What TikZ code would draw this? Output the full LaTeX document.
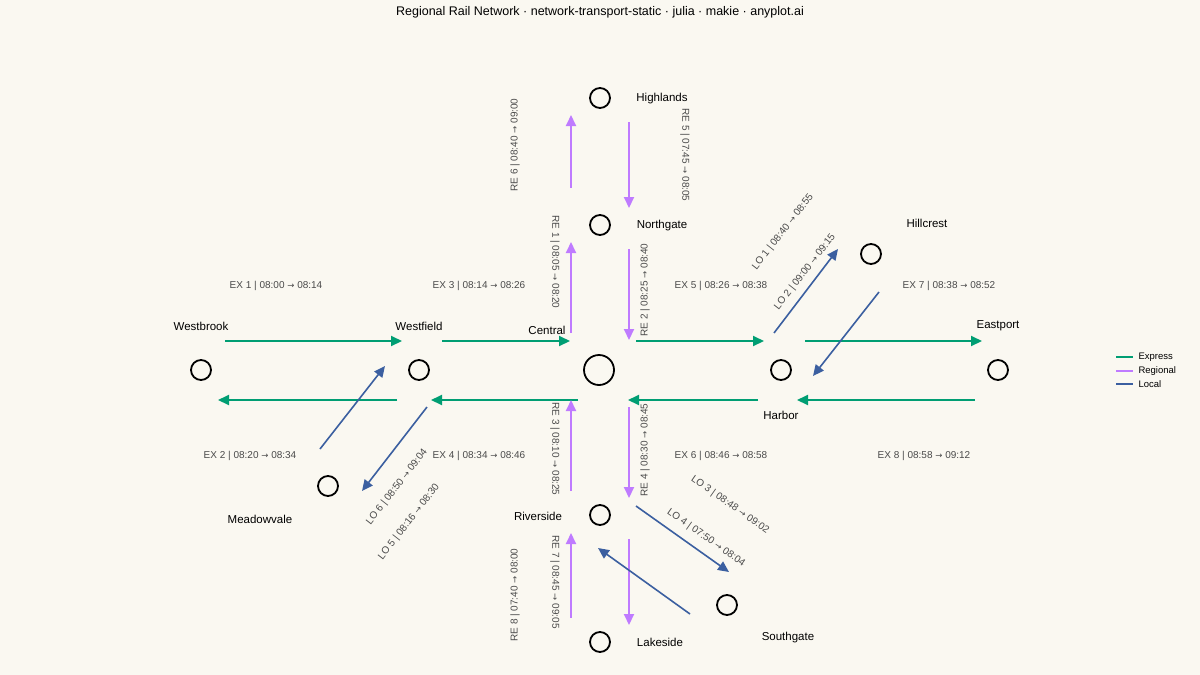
\documentclass[tikz,border=0pt]{standalone}
\usepackage{fontspec}
\setmainfont{Liberation Sans}
\newfontfamily\arrfont{DejaVu Sans}[Scale=0.85]
\newcommand\myarr{{\arrfont →}}
\usetikzlibrary{arrows.meta}
\definecolor{bg}{HTML}{FAF8F1}
\definecolor{ex}{HTML}{009E73}
\definecolor{re}{HTML}{BF7BFF}
\definecolor{lo}{HTML}{3B5FA0}
\definecolor{lab}{HTML}{4A4A4A}
\begin{document}
\begin{tikzpicture}[x=1pt,y=-1pt,
 st/.style={circle,draw=black,line width=1.8pt,minimum size=20pt,inner sep=0pt},
 sl/.style={font=\fontsize{11.5}{13}\selectfont,text=black},
 el/.style={font=\fontsize{10}{11}\selectfont,text=lab},
 tip/.style={-{Triangle[length=11pt,width=10pt]}},
 exl/.style={tip,draw=ex,line width=2pt},
 rel/.style={tip,draw=re,line width=2pt},
 lol/.style={tip,draw=lo,line width=1.6pt}]
\fill[bg] (0,0) rectangle (1200,675);
\useasboundingbox (0,0) rectangle (1200,675);
\node[font=\fontsize{12.5}{14}\selectfont] (title) at (600,12) {Regional Rail Network · network-transport-static · julia · makie · anyplot.ai};
% stations
\node[st] (wb) at (201,370) {}; \node[sl] at (201,326) {Westbrook};
\node[st] (wf) at (419,370) {}; \node[sl] at (419,326) {Westfield};
\node[st,minimum size=30pt] (ce) at (599,370) {}; \node[sl] at (547,330) {Central};
\node[st] (ha) at (781,370) {}; \node[sl] at (781,415) {Harbor};
\node[st] (ep) at (998,370) {}; \node[sl] at (998,326) {Eastport};
\node[st] (hl) at (600,98) {}; \node[sl] at (662,99) {Highlands};
\node[st] (ng) at (600,225) {}; \node[sl] at (662,226) {Northgate};
\node[st] (hc) at (871,254) {}; \node[sl] at (927,223) {Hillcrest};
\node[st] (mv) at (328,486) {}; \node[sl] at (260,519) {Meadowvale};
\node[st] (rs) at (600,515) {}; \node[sl] at (538,516) {Riverside};
\node[st] (ls) at (600,642) {}; \node[sl] at (660,642) {Lakeside};
\node[st] (sg) at (727,605) {}; \node[sl] at (788,638) {Southgate};
% express
\draw[exl] (225,341) -- (402,341);
\draw[exl] (442,341) -- (570,341);
\draw[exl] (636,341) -- (764,341);
\draw[exl] (805,341) -- (982,341);
\draw[exl] (397,400) -- (218,400);
\draw[exl] (578,400) -- (431,400);
\draw[exl] (758,400) -- (628,400);
\draw[exl] (975,400) -- (797,400);
\node[el] at (276,286) {EX 1 | 08:00 \myarr{} 08:14};
\node[el] at (479,286) {EX 3 | 08:14 \myarr{} 08:26};
\node[el] at (721,286) {EX 5 | 08:26 \myarr{} 08:38};
\node[el] at (949,286) {EX 7 | 08:38 \myarr{} 08:52};
\node[el] at (250,456) {EX 2 | 08:20 \myarr{} 08:34};
\node[el] at (479,456) {EX 4 | 08:34 \myarr{} 08:46};
\node[el] at (721,456) {EX 6 | 08:46 \myarr{} 08:58};
\node[el] at (924,456) {EX 8 | 08:58 \myarr{} 09:12};
% regional
\draw[rel] (571,188) -- (571,115);
\draw[rel] (629,122) -- (629,208);
\draw[rel] (571,333) -- (571,242);
\draw[rel] (629,249) -- (629,340);
\draw[rel] (571,491) -- (571,400);
\draw[rel] (629,407) -- (629,498);
\draw[rel] (571,618) -- (571,533);
\draw[rel] (629,539) -- (629,625);
\node[el,rotate=90] at (515,145) {RE 6 | 08:40 \myarr{} 09:00};
\node[el,rotate=-90] at (685,155) {RE 5 | 07:45 \myarr{} 08:05};
\node[el,rotate=-90] at (555,262) {RE 1 | 08:05 \myarr{} 08:20};
\node[el,rotate=90] at (645,290) {RE 2 | 08:25 \myarr{} 08:40};
\node[el,rotate=-90] at (555,449) {RE 3 | 08:10 \myarr{} 08:25};
\node[el,rotate=90] at (645,450) {RE 4 | 08:30 \myarr{} 08:45};
\node[el,rotate=-90] at (555,582) {RE 7 | 08:45 \myarr{} 09:05};
\node[el,rotate=90] at (515,595) {RE 8 | 07:40 \myarr{} 08:00};
% local
\draw[lol] (774,333) -- (838,249);
\draw[lol] (879,292) -- (813,376);
\draw[lol] (320,449) -- (385,366);
\draw[lol] (427,407) -- (362,491);
\draw[lol] (636,506) -- (729,572);
\draw[lol] (690,614) -- (598,548);
\node[el,rotate=52] at (783,232) {LO 1 | 08:40 \myarr{} 08:55};
\node[el,rotate=52] at (805,272) {LO 2 | 09:00 \myarr{} 09:15};
\node[el,rotate=52] at (397,487) {LO 6 | 08:50 \myarr{} 09:04};
\node[el,rotate=52] at (409,522) {LO 5 | 08:16 \myarr{} 08:30};
\node[el,rotate=-35] at (730,505) {LO 3 | 08:48 \myarr{} 09:02};
\node[el,rotate=-35] at (706,538) {LO 4 | 07:50 \myarr{} 08:04};
% legend
\draw[ex,line width=2pt] (1116,357) -- (1133,357); \node[font=\fontsize{9.5}{11}\selectfont,anchor=west] at (1135,357) {Express};
\draw[re,line width=2pt] (1116,371) -- (1133,371); \node[font=\fontsize{9.5}{11}\selectfont,anchor=west] at (1135,371) {Regional};
\draw[lo,line width=2pt] (1116,384) -- (1133,384); \node[font=\fontsize{9.5}{11}\selectfont,anchor=west] at (1135,384) {Local};
\end{tikzpicture}
\end{document}
